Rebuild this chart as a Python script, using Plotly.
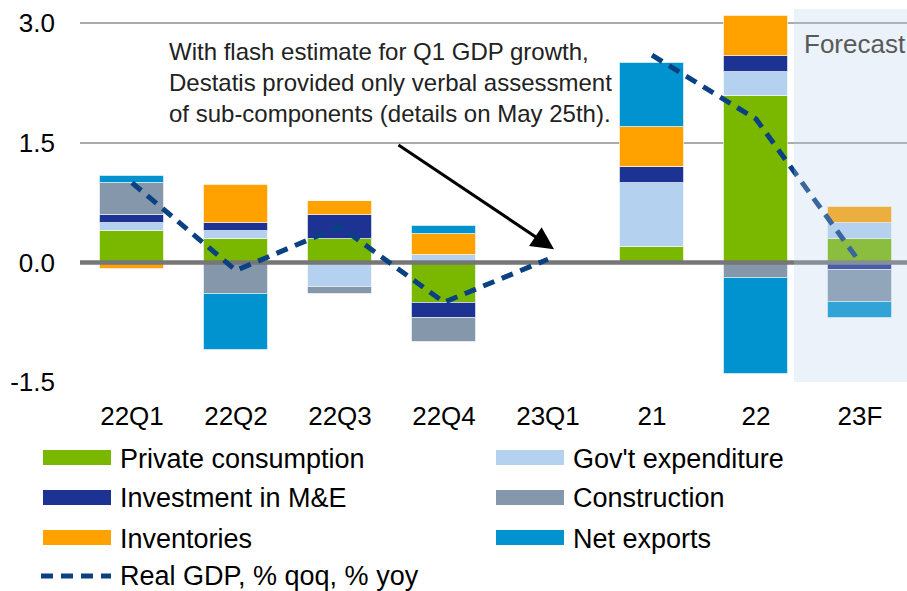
import plotly.graph_objects as go

# Contributions to German real GDP growth, pp
categories = ["22Q1", "22Q2", "22Q3", "22Q4", "23Q1", "21", "22", "23F"]
private_consumption = [0.40, 0.29, 0.29, -0.51, None, 0.20, 2.09, 0.29]
govt_expenditure = [0.10, 0.10, -0.31, 0.09, None, 0.80, 0.30, 0.20]
investment_me = [0.10, 0.10, 0.30, -0.19, None, 0.20, 0.20, -0.10]
construction = [0.40, -0.40, -0.09, -0.30, None, 0.00, -0.20, -0.40]
inventories = [-0.08, 0.48, 0.18, 0.27, None, 0.50, 0.50, 0.20]
net_exports = [0.09, -0.70, 0.00, 0.10, None, 0.80, -1.20, -0.20]

# Real GDP: quarterly (% qoq) and annual (% yoy) segments
gdp_qoq = [1.00, -0.10, 0.45, -0.50, 0.04]
gdp_yoy = [2.60, 1.80, 0.00]

series_names = ["Private consumption", "Gov't expenditure", "Investment in M&E",
                "Construction", "Inventories", "Net exports"]
series_values = [private_consumption, govt_expenditure, investment_me,
                 construction, inventories, net_exports]
series_colors = ["#7AB800", "#B4D2EF", "#1C3393", "#8497AB", "#FFA200", "#0093D0"]
gdp_name = "Real GDP, % qoq, % yoy"
gdp_color = "#0A4182"

y_ticks = [-1.5, 0.0, 1.5, 3.0]
y_ticklabels = ["-1.5", "0.0", "1.5", "3.0"]

FONT = "Arial, Liberation Sans, sans-serif"
W, H = 907, 591
ML, MR, MT, MB = 80, 0, 9, 209
X_RANGE = [-0.5, 7.452]
Y_RANGE = [-1.5, 3.18]

xpos = list(range(len(categories)))

fig = go.Figure()

for name, vals, col in zip(series_names, series_values, series_colors):
    fig.add_trace(go.Bar(
        x=xpos, y=vals, name=name, width=0.615,
        marker=dict(color=col, line=dict(color="rgba(255,255,255,0.55)", width=1)),
        showlegend=False,
    ))

# zero line sits above the bars but under the GDP line
fig.add_trace(go.Scatter(
    x=X_RANGE, y=[0, 0], mode="lines",
    line=dict(color="#767676", width=4.5),
    hoverinfo="skip", showlegend=False,
))

gdp_line = dict(color=gdp_color, width=5, dash="12px,8px")
fig.add_trace(go.Scatter(x=xpos[:5], y=gdp_qoq, mode="lines", name=gdp_name,
                         line=gdp_line, showlegend=False))
fig.add_trace(go.Scatter(x=xpos[5:], y=gdp_yoy, mode="lines", name=gdp_name,
                         line=gdp_line, showlegend=False))


def px_x(p):
    return (p - ML) / (W - ML - MR)


def px_y(p):
    return (H - MB - p) / (H - MB - MT)


shapes = [
    # forecast area, drawn over the marks as a translucent wash
    dict(type="rect", xref="x", yref="paper", x0=6.365, x1=X_RANGE[1], y0=0, y1=1,
         fillcolor="rgba(186,206,232,0.27)", line=dict(width=0), layer="above"),
]
annotations = [
    dict(text="Forecast", xref="paper", yref="paper", x=px_x(802), y=px_y(44),
         xanchor="left", yanchor="middle", showarrow=False,
         font=dict(family=FONT, size=26, color="#595959")),
    dict(text="With flash estimate for Q1 GDP growth,<br>"
              "Destatis provided only verbal assessment<br>"
              "of sub-components (details on May 25th).",
         xref="paper", yref="paper", x=px_x(167), y=px_y(36),
         xanchor="left", yanchor="top", align="left", showarrow=False,
         font=dict(family=FONT, size=24, color="#222222")),
    dict(text="", xref="x", yref="y", x=4.058, y=0.167,
         axref="x", ayref="y", ax=2.548, ay=1.486,
         showarrow=True, arrowhead=2, arrowsize=1.5, arrowwidth=3, arrowcolor="#000000"),
]

# legend: two columns of wide swatches, GDP line on its own row
col_x = [43, 496]
row_y = [457.5, 497.5, 537.5]
for i, (name, col) in enumerate(zip(series_names, series_colors)):
    cx = col_x[i % 2]
    cy = row_y[i // 2]
    shapes.append(dict(type="rect", xref="paper", yref="paper",
                       x0=px_x(cx), x1=px_x(cx + 68), y0=px_y(cy + 7.5), y1=px_y(cy - 7.5),
                       fillcolor=col, line=dict(width=0)))
    annotations.append(dict(text=name, xref="paper", yref="paper",
                            x=px_x(cx + 75), y=px_y(cy + 1), xanchor="left", yanchor="middle",
                            showarrow=False, font=dict(family=FONT, size=27, color="#000000")))
gy = 576
shapes.append(dict(type="line", xref="paper", yref="paper",
                   x0=px_x(41), x1=px_x(111), y0=px_y(gy), y1=px_y(gy),
                   line=dict(color=gdp_color, width=5, dash="12px,8px")))
annotations.append(dict(text=gdp_name, xref="paper", yref="paper",
                        x=px_x(118), y=px_y(gy), xanchor="left", yanchor="middle",
                        showarrow=False, font=dict(family=FONT, size=27, color="#000000")))

fig.update_layout(
    width=W, height=H,
    margin=dict(l=ML, r=MR, t=MT, b=MB, pad=0),
    barmode="relative", bargap=0,
    plot_bgcolor="#FFFFFF", paper_bgcolor="#FFFFFF",
    font=dict(family=FONT, size=26, color="#000000"),
    showlegend=False,
    shapes=shapes, annotations=annotations,
    xaxis=dict(range=X_RANGE, tickvals=xpos, ticktext=categories,
               showgrid=False, zeroline=False, showline=False, ticks="",
               tickfont=dict(family=FONT, size=26, color="#000000"),
               ticklabelstandoff=16, fixedrange=True),
    yaxis=dict(range=Y_RANGE, tickvals=y_ticks, ticktext=y_ticklabels,
               showgrid=True, gridcolor="#ABABAB", gridwidth=1.5,
               zeroline=False, showline=False, ticks="",
               tickfont=dict(family=FONT, size=26, color="#000000"),
               ticklabelstandoff=24, fixedrange=True),
)

fig.write_html("out.html")
